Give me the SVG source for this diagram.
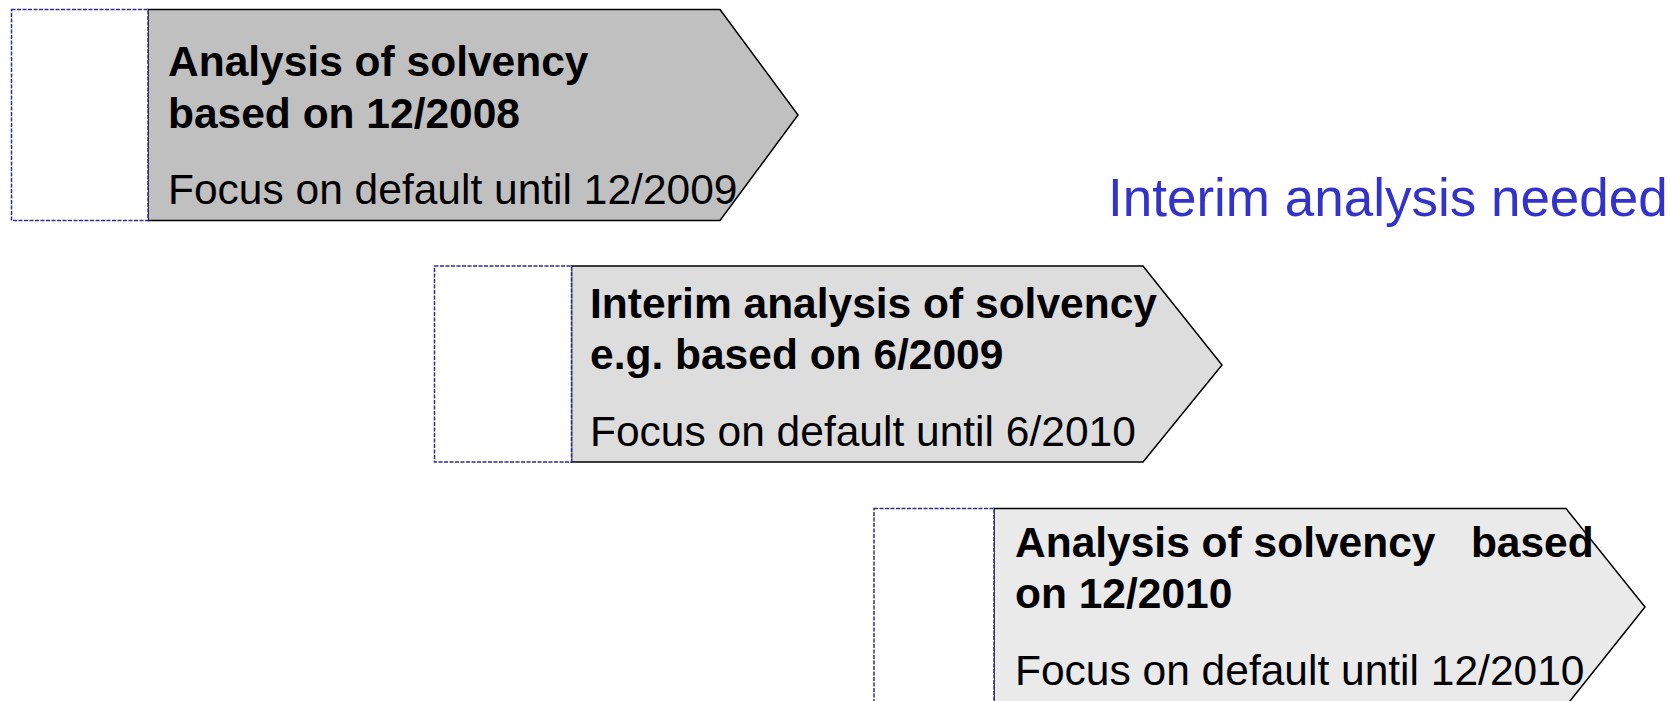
<svg xmlns="http://www.w3.org/2000/svg" width="1670" height="701" viewBox="0 0 1670 701">
<style>
.arrow{stroke:#000;stroke-width:1.5;stroke-linejoin:miter}
.tab{fill:#fff;stroke:#2e2e96;stroke-width:1.5;stroke-dasharray:4 1.5}
.b{font-family:"Liberation Sans",Arial,sans-serif;font-weight:bold;font-size:42.5px;fill:#000;white-space:pre}
.r{font-family:"Liberation Sans",Arial,sans-serif;font-size:42.5px;fill:#000;white-space:pre}
.blue{font-family:"Liberation Sans",Arial,sans-serif;font-size:53px;fill:#3333cc}
</style>
<rect width="1670" height="701" fill="#fff"/>
<g id="step1">
<polygon class="arrow" fill="#c0c0c0" points="148,9.5 720,9.5 798,115 720,220.5 148,220.5"/>
<rect class="tab" x="11.5" y="9.5" width="136.5" height="211"/>
<text class="b" x="168" y="76">Analysis of solvency</text>
<text class="b" x="168" y="128">based on 12/2008</text>
<text class="r" x="168" y="204">Focus on default until 12/2009</text>
</g>
<g id="step2">
<polygon class="arrow" fill="#dddddd" points="571.5,266 1143,266 1222,365 1143,462 571.5,462"/>
<rect class="tab" x="434.5" y="266" width="137" height="196"/>
<text class="b" x="590" y="318">Interim analysis of solvency</text>
<text class="b" x="590" y="369">e.g. based on 6/2009</text>
<text class="r" x="590" y="446">Focus on default until 6/2010</text>
</g>
<g id="step3">
<polygon class="arrow" fill="#eaeaea" points="994,508.5 1566,508.5 1645,607 1566,706 994,706"/>
<rect class="tab" x="874" y="508.5" width="120" height="200"/>
<text class="b" x="1015" y="557">Analysis of solvency   based</text>
<text class="b" x="1015" y="608">on 12/2010</text>
<text class="r" x="1015" y="685">Focus on default until 12/2010</text>
</g>
<g id="note">
<text class="blue" x="1108" y="216">Interim analysis needed</text>
</g>
<g id="connectors"/>
</svg>
